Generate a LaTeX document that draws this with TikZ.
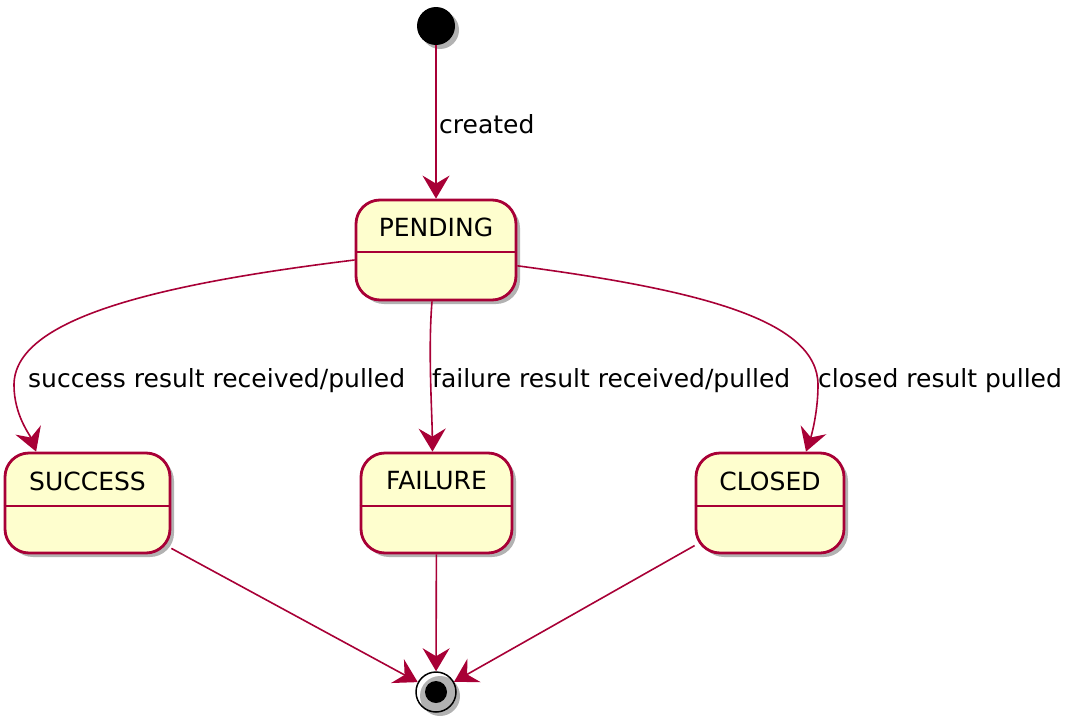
\documentclass[tikz,border=0pt]{standalone}
\usepackage{fontspec}
\setmainfont{DejaVu Sans}
\usepackage{tikz}
\usetikzlibrary{arrows.meta,shadows}
\definecolor{umlred}{HTML}{A80036}
\definecolor{umlfill}{HTML}{FEFECE}
\tikzset{
  umlshadow/.style={drop shadow={shadow xshift=4pt, shadow yshift=-4pt, fill=black, opacity=0.3}},
  statebox/.style={draw=umlred, fill=umlfill, line width=2.8pt, rounded corners=24pt, minimum height=100pt, inner sep=0pt, umlshadow},
  statename/.style={inner sep=0pt, font=\fontsize{25}{30}\selectfont},
  edgelabel/.style={inner sep=0pt, anchor=base west, font=\fontsize{25}{30}\selectfont},
  trans/.style={draw=umlred, line width=1.6pt, -{Stealth[length=23pt,width=27pt,inset=8pt]}},
  divider/.style={draw=umlred, line width=2.8pt}
}

\begin{document}
\begin{tikzpicture}[x=1pt,y=-1pt]
\useasboundingbox (0,0) rectangle (1076,728);

\node [circle, fill=black, minimum size=38pt, inner sep=0pt, umlshadow] (start) at (436,26) {};

\node [statebox, minimum width=160pt] (pend) at (436,250) {};
\node [statename] (pendname) at (436,227) {PENDING};
\draw [divider] ([yshift=-2pt]pend.west) -- ([yshift=-2pt]pend.east);

\node [statebox, minimum width=165pt] (succ) at (87.5,503) {};
\node [statename] (succname) at (87.5,481) {SUCCESS};
\draw [divider] ([yshift=-3pt]succ.west) -- ([yshift=-3pt]succ.east);

\node [statebox, minimum width=151pt] (fail) at (436.5,503) {};
\node [statename] (failname) at (436.5,481) {FAILURE};
\draw [divider] ([yshift=-3pt]fail.west) -- ([yshift=-3pt]fail.east);

\node [statebox, minimum width=148pt] (clos) at (770,503) {};
\node [statename] (closname) at (770,481) {CLOSED};
\draw [divider] ([yshift=-3pt]clos.west) -- ([yshift=-3pt]clos.east);

\node [circle, draw=black, line width=1.5pt, minimum size=40pt, inner sep=0pt, umlshadow] (stop) at (436,692) {};
\node [circle, fill=black, minimum size=22pt, inner sep=0pt] (stopdot) at (stop.center) {};

\draw [trans] (start) -- (pend);
\draw [trans] (pend.187) .. controls (150,285) and (14,320) .. (14,385) .. controls (14,415) and (30,435) .. (succ.135);
\draw [trans] ([xshift=-4pt]pend.south) .. controls (428,350) and (432,410) .. ([xshift=-4pt]fail.north);
\draw [trans] (pend.349) .. controls (700,290) and (818,320) .. (818,385) .. controls (818,415) and (810,440) .. ([xshift=36pt]clos.north);

\draw [trans] (succ) -- (stop);
\draw [trans] (fail) -- (stop);
\draw [trans] (clos) -- (stop);

\node [edgelabel] (lblcreated) at (439,133) {created};
\node [edgelabel] (lblsucc) at (28,387) {success result received/pulled};
\node [edgelabel] (lblfail) at (432,387) {failure result received/pulled};
\node [edgelabel] (lblclos) at (818,387) {closed result pulled};

\end{tikzpicture}
\end{document}
